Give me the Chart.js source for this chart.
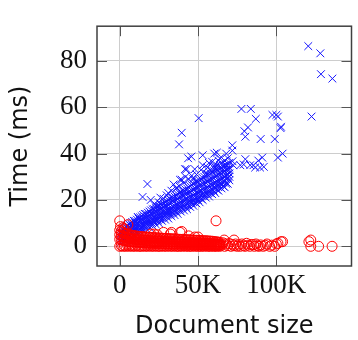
<!DOCTYPE html>
<html lang="en">
<head>
    <meta charset="UTF-8">
    <title>Time vs document size</title>
    <script src="https://cdn.jsdelivr.net/npm/chart.js"></script>
    <style>
        html, body { margin: 0; padding: 0; background: white; }
        .chart-box { width: 358px; height: 340px; }
    </style>
</head>
<body>
    <div class="chart-box">
        <canvas id="timeChart" width="358" height="340"></canvas>
    </div>
    <script>
        // axis ticks (x in thousands of bytes)
        const xTicks = [0, 50, 100];
        const yTicks = [0, 20, 40, 60, 80];

        // blue crosses: main band
        const bandX   = [1,2,3,4,5,6,7,8,9,10,11,12,13,14,15,16,17,18,19,20,21,22,23,24,25,26,27,28,29,30,31,32,33,34,35,36,37,38,39,40,41,42,43,44,45,46,47,48,49,50,51,52,53,54,55,56,57,58,59,60,61,62,63,64,65,66,67,68,69,70];
        const bandLo  = [2,3.5,2.5,4,3.5,5,4,5.5,5,6.5, 5.5,7,6,7.5,7,8.5,7.5,9,8,9.5, 9,10.5,9.5,11,10,11.5,11,12.5,11.5,13, 12,13.5,13,14.5,13.5,15,14,15.5,15,16.5, 15.5,17,16,17.5,17,18.5,17.5,19,18.5,20, 19,20.5,20,21.5,21,22.5,21.5,23,22.5,24, 23,24.5,24,25.5,25,26,25.5,27,27,28.5];
        const bandQ1  = [3.5,4,4.5,5,5.5,5,6,6.5,7,7, 7.5,8,7.5,8.5,9,9,9.5,10,10.5,10.5, 11,11,12,11.5,12.5,12.5,13,13.5,13.5,14, 14.5,14.5,15,15.5,15.5,16,16.5,16.5,17,17.5, 18,18,18.5,19,19.5,19.5,20,20.5,21,21, 21.5,22,22.5,22.5,23,23.5,24,24,24.5,25.5, 25.5,26,26.5,27,27,27.5,28,29,29.5,30];
        const bandMid = [4.5,5,5.5,6,6,6.5,7,7.5,8,8, 8.5,9,9,9.5,10,10.5,10.5,11,11.5,12, 12,12.5,13,13,13.5,14,14.5,15,15,15.5, 16,16,16.5,17,17.5,18,18,18.5,19,19.5, 19.5,20,20.5,21,21,21.5,22,22.5,23,23, 23.5,24,24.5,24.5,25,25.5,26,26.5,26.5,27, 27.5,28,28.5,28.5,29,29.5,30,30.5,31,31.5];
        const bandQ3  = [5.5,6,7,7,7.5,8,9,9,9.5,10, 10,10.5,11,11.5,12,12,12.5,13,13.5,14, 14,14.5,15,15.5,15.5,16,16.5,17,17.5,17.5, 18,18.5,19,19.5,19.5,20,20.5,21,21.5,22, 22,22.5,23,23.5,23.5,24,24.5,25,25.5,25.5, 26,26.5,27,27,27.5,28,28.5,29,29,29.5, 30,30.5,31,31.5,31.5,32,32.5,33,33,34];
        const bandHi  = [6,7,8,8.5,9,9.5,10,10.5,11,11, 11.5,12,12.5,13,13.5,14,14,14.5,15,15.5, 16,16,16.5,17,17.5,18,18,18.5,19,19.5, 20,20.5,21,21,21.5,22,22.5,23,23.5,24, 24,24.5,25,25.5,26,26.5,27,27.5,28,28, 28.5,29,29.5,30,30.5,31,31,31.5,32,32.5, 33,33,33.5,34,34,34.5,35,35,35.5,36];
        const blueOutliers = [
            [120.4,86.4],[128.1,83.3],[128.5,74.3],[135.8,72.4],[122.5,56],[101,56],[103,51.6],
            [50.4,55.3],[77.7,59.3],[83.7,59.3],[86.9,55],[97.5,56.7],[100,56.7],[102.7,51],
            [81.9,51.3],[79.6,49.7],[80.2,47.3],[90,46.3],[99,46.3],[104,40],[101,38.3],
            [71.9,43.6],[71.9,41.3],[91,38.3],[88.5,37],[85.4,35],[83.3,35],[86.5,34],[92,34.3],
            [80.2,37.6],[77,35],[72,36.7],[72.5,35],[62,40.4],[60.4,34.7],[53,39.3],[45.8,38.7],
            [39.6,49],[37.9,44],[17.7,26.9],[14.6,21.3],[19.8,20],[11.5,12.7],[24,17.3],
            [43.7,38],[41.7,33.3],[47.9,33.3],[39.6,28.7],[36.5,25.3],[34.4,26.7],[42.7,33.3],
            [38.5,28.7],[60.4,40],[79.2,35.3],[89.6,34],[56,34],[58,33],[62,35],[65,36],
            [67,37],[69,38],[64,38],[66,33],[70,33],[68,40],[57,36],
            [30,22],[33,24],[36,25],[38,26],[41,27.5],[44,29],[46,30.5],[49,31],[52,33],
            [55,31.5],[28,20.5],[25,19],[22,18],[26,21],[31,23],[42,30],[47,29],[53,35],
            [59,36.5],[63,37],[61,34]
        ];

        // red circles: dense strip near zero, then sparse ones
        const redX   = [0,1,2,3,4,5,6,7,8,9,10,11,12,13,14,15,16,17,18,19,20,21,22,23,24,25,26,27,28,29,30,31,32,33,34,35,36,37,38,39,40,41,42,43,44,45,46,47,48,49,50,51,52,53,54,55,56,57,58,59,60,61,62,63,64];
        const redLo  = [0,0.3,0,0.2,0,0.4,0,0.3,0,0.2, 0,0.4,0,0.1,0,0.3,0,0.2,0,0.4, 0,0.2,0,0.3,0,0.1,0,0.3,0,0.2, 0,0.4,0,0.2,0,0.3,0,0.1,0,0.2, 0,0.3,0,0.2,0,0.1,0,0.3,0,0.2, 0,0.1,0,0.2,0,0.3,0,0.1,0,0.2, 0,0.1,0,0.2,0];
        const redMid = [3,2.8,2.6,2.5,2.4,2.2,2.1,2,2,1.9, 1.8,1.8,1.7,1.7,1.6,1.6,1.5,1.5,1.5,1.4, 1.4,1.4,1.3,1.3,1.3,1.2,1.2,1.2,1.2,1.1, 1.1,1.1,1.1,1,1,1,1,1,1,0.9, 0.9,0.9,0.9,0.9,0.8,0.8,0.8,0.8,0.8,0.8, 0.7,0.7,0.7,0.7,0.7,0.6,0.6,0.6,0.6,0.6, 0.5,0.5,0.5,0.5,0.5];
        const redUp  = [5,4.6,4.3,4,3.8,3.6,3.5,3.3,3.2,3.1, 3,2.9,2.9,2.8,2.8,2.7,2.6,2.6,2.5,2.5, 2.4,2.4,2.3,2.3,2.3,2.2,2.2,2.2,2.1,2.1, 2,2,2,1.9,1.9,1.9,1.8,1.8,1.8,1.7, 1.7,1.7,1.7,1.6,1.6,1.6,1.5,1.5,1.5,1.5, 1.4,1.4,1.4,1.3,1.3,1.3,1.2,1.2,1.2,1.1, 1.1,1,1,0.9,0.9];
        const redHi  = [7,6.5,6,5.7,5.5,5.3,5.1,4.9,4.7,4.6, 4.5,4.4,4.3,4.2,4.2,4.1,4,4,3.9,3.9, 3.8,3.8,3.7,3.7,3.6,3.6,3.5,3.5,3.4,3.4, 3.4,3.3,3.3,3.2,3.2,3.2,3.1,3.1,3,3, 3,2.9,2.9,2.8,2.8,2.8,2.7,2.7,2.6,2.6, 2.6,2.5,2.5,2.4,2.4,2.4,2.3,2.3,2.2,2.2, 2.1,2,1.9,1.8,1.7];
        const redOutliers = [
            [0,11],[5.2,9.3],[61.5,11],[39.6,6.4],[28,6],[33,6],[19.8,5.3],[21.9,5.3],[32.3,5.3],
            [38.5,6],[50,4],[44,4.5],[48,4],[24,5],[0.5,8.5],[2,8],[3,7.5],[66.7,2.7],[73,2.7],
            [104,2],[101,1.3],[103,2],[120.8,2],[122,0],[127,0],[135.6,0],[122,2.7]
        ];
        const redSparse = [
            [65,0.5],[66,1.5],[67,0],[68,1],[69,0.3],[70,1.2],[71,0],[72,0.8],[73,0.2],[74,1],
            [75,0],[76,0.6],[77,0],[78,1],[79,0.3],[80,0],[81,1.3],[82,0.5],[83,0],[84,0.8],
            [85.4,0.7],[86,0],[87,1],[88,0.2],[89,0],[90,0.6],[91.7,0],[93,0.4],[94,1],
            [95.8,0],[97,0.5],[99,0],[100,1]
        ];

        function toPoints(xs, ys) {
            return xs.map((x, i) => ({ x: x, y: ys[i] }));
        }
        function pairs(list) {
            return list.map(p => ({ x: p[0], y: p[1] }));
        }

        const bluePoints = [].concat(
            toPoints(bandX, bandLo), toPoints(bandX, bandQ1), toPoints(bandX, bandMid),
            toPoints(bandX, bandQ3), toPoints(bandX, bandHi), pairs(blueOutliers)
        );
        const redPoints = [].concat(
            toPoints(redX, redLo), toPoints(redX, redMid), toPoints(redX, redUp), toPoints(redX, redHi),
            pairs(redOutliers), pairs(redSparse)
        );

        // box + inward tick marks like pgfplots
        const frame = {
            id: 'frame',
            beforeDatasetsDraw(chart) {
                const { ctx, chartArea: a, scales } = chart;
                ctx.save();
                ctx.strokeStyle = '#555';
                ctx.lineWidth = 1;
                ctx.beginPath();
                xTicks.forEach(v => {
                    const px = Math.round(scales.x.getPixelForValue(v)) + 0.5;
                    ctx.moveTo(px, a.top); ctx.lineTo(px, a.top + 10);
                    ctx.moveTo(px, a.bottom); ctx.lineTo(px, a.bottom - 10);
                });
                yTicks.forEach(v => {
                    const py = Math.round(scales.y.getPixelForValue(v)) + 0.5;
                    ctx.moveTo(a.left, py); ctx.lineTo(a.left + 10, py);
                    ctx.moveTo(a.right, py); ctx.lineTo(a.right - 10, py);
                });
                ctx.stroke();
                ctx.restore();
            },
            afterDatasetsDraw(chart) {
                const { ctx, chartArea: a } = chart;
                ctx.save();
                ctx.strokeStyle = '#404040';
                ctx.lineWidth = 1.5;
                ctx.strokeRect(a.left, a.top, a.right - a.left, a.bottom - a.top);
                ctx.restore();
            }
        };

        new Chart(document.getElementById('timeChart'), {
            type: 'scatter',
            data: {
                datasets: [{
                    label: 'red',
                    data: redPoints,
                    pointStyle: 'circle',
                    pointRadius: 5,
                    borderWidth: 1,
                    borderColor: 'rgb(255,0,0)',
                    backgroundColor: 'rgba(0,0,0,0)'
                }, {
                    label: 'blue',
                    data: bluePoints,
                    pointStyle: 'crossRot',
                    pointRadius: 5.5,
                    borderWidth: 1,
                    borderColor: 'rgb(20,20,255)',
                    backgroundColor: 'rgb(20,20,255)'
                }]
            },
            options: {
                responsive: false,
                animation: false,
                events: [],
                layout: { padding: { top: 7, right: 1, left: 0, bottom: 0 } },
                plugins: { legend: { display: false }, tooltip: { enabled: false } },
                scales: {
                    x: {
                        type: 'linear',
                        min: -14.5,
                        max: 148,
                        afterBuildTicks: s => { s.ticks = xTicks.map(v => ({ value: v })); },
                        afterFit: s => { s.height = 74; },
                        border: { display: false },
                        grid: { color: '#cdcdcd', drawTicks: false },
                        ticks: {
                            padding: 4,
                            color: '#111',
                            font: { family: 'Liberation Serif', size: 27 },
                            callback: v => v === 0 ? '0' : v + 'K'
                        },
                        title: {
                            display: true,
                            text: 'Document size',
                            color: '#111',
                            padding: { top: 0, bottom: 1 },
                            font: { family: 'DejaVu Sans', size: 24, lineHeight: 1 }
                        }
                    },
                    y: {
                        type: 'linear',
                        min: -8.5,
                        max: 95,
                        afterBuildTicks: s => { s.ticks = yTicks.map(v => ({ value: v })); },
                        afterFit: s => { s.width = 97; },
                        border: { display: false },
                        grid: { color: '#cdcdcd', drawTicks: false },
                        ticks: {
                            padding: 10,
                            color: '#111',
                            font: { family: 'Liberation Serif', size: 27 }
                        },
                        title: {
                            display: true,
                            text: 'Time (ms)',
                            color: '#111',
                            padding: { top: 9, bottom: 0 },
                            font: { family: 'DejaVu Sans', size: 24, lineHeight: 1 }
                        }
                    }
                }
            },
            plugins: [frame]
        });
    </script>
</body>
</html>
